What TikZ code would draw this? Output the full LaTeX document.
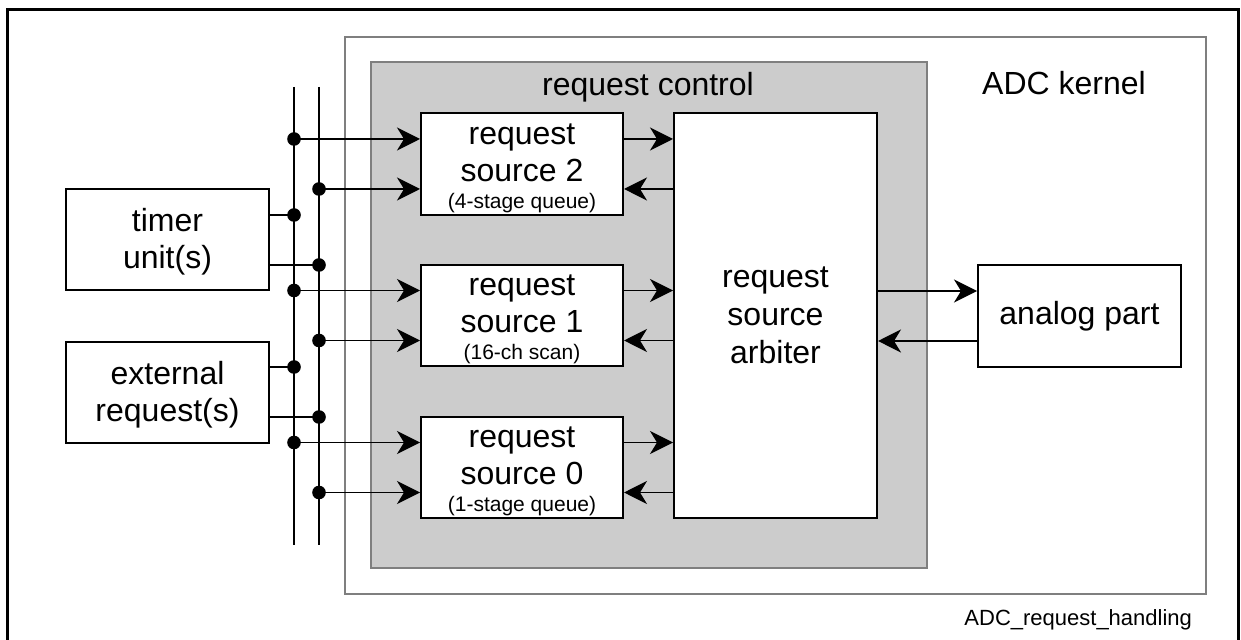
\documentclass[tikz,border=0pt]{standalone}
\usepackage{fontspec}
\setmainfont{Liberation Sans}
\usetikzlibrary{arrows.meta}
\definecolor{ctrlgray}{HTML}{CCCCCC}
\definecolor{edgegray}{HTML}{7F7F7F}
\tikzset{
  blk/.style={draw=black, line width=1pt, fill=white, align=center, inner sep=0pt,
    font=\fontsize{16}{19}\selectfont},
  rstext/.style={align=center, inner sep=0pt, yshift=-2pt, font=\fontsize{16}{18.5}\selectfont},
  conn/.style={line width=0.75pt},
  arr/.style={conn, -{Stealth[length=11.5pt, width=11.5pt, inset=3.5pt]}},
  busline/.style={line width=1.1pt},
  junc/.style={circle, fill=black, inner sep=0pt, minimum size=6.8pt},
  smalltxt/.style={font=\fontsize{10.5}{12}\selectfont}
}
\begin{document}
\begin{tikzpicture}[x=0.5pt,y=-0.5pt]
\useasboundingbox (0,0) rectangle (1241,640);
% outer frame
\draw[line width=1.5pt] (7,650) -- (7,10) -- (1238,10) -- (1238,650);
% ADC kernel
\draw[draw=edgegray, line width=0.7pt] (345,37) rectangle (1206,594);
\node[font=\fontsize{16}{19}\selectfont] (kern) at (1064,83) {ADC kernel};
% request control
\draw[draw=edgegray, line width=0.8pt, fill=ctrlgray] (371,62) rectangle (927,568);
\node[font=\fontsize{16}{19}\selectfont] (ctrl) at (648,87) {request control};
% blocks
\node[blk, minimum width=101.5pt, minimum height=50.5pt,
  label={[rstext, yshift=1pt]center:timer\\unit(s)}] (timer) at (167.5,239.5) {};
\node[blk, minimum width=101.5pt, minimum height=50.5pt,
  label={[rstext, yshift=1pt]center:external\\request(s)}] (ext) at (167.5,392.5) {};
\node[blk, minimum width=101pt, minimum height=51pt,
  label={[rstext]center:request\\source 2\\[-5pt]{\fontsize{10.5}{12}\selectfont (4-stage queue)}}] (rs2) at (522,164) {};
\node[blk, minimum width=101pt, minimum height=50.5pt,
  label={[rstext]center:request\\source 1\\[-5pt]{\fontsize{10.5}{12}\selectfont (16-ch scan)}}] (rs1) at (522,315.5) {};
\node[blk, minimum width=101pt, minimum height=50.5pt,
  label={[rstext]center:request\\source 0\\[-5pt]{\fontsize{10.5}{12}\selectfont (1-stage queue)}}] (rs0) at (522,467.5) {};
\node[blk, minimum width=101.5pt, minimum height=202.5pt] (arb) at (775.5,315.5) {request\\source\\arbiter};
\node[blk, minimum width=101.5pt, minimum height=51pt] (ana) at (1079.5,316) {analog part};
% bus lines
\coordinate (b1t) at (294,87); \coordinate (b1b) at (294,545);
\coordinate (b2t) at (319,87); \coordinate (b2b) at (319,545);
\draw[busline] (b1t) -- (b1b);
\draw[busline] (b2t) -- (b2b);
% connection points on the request sources
\foreach \r in {rs2,rs1,rs0}{
  \coordinate (\r a) at ([yshift=12.5pt]\r.west);
  \coordinate (\r b) at ([yshift=-12.5pt]\r.west);
}
% timer and external outputs to bus
\coordinate (ta) at ([yshift=12.25pt]timer.east);
\coordinate (tb) at ([yshift=-12.75pt]timer.east);
\coordinate (ea) at ([yshift=12.75pt]ext.east);
\coordinate (eb) at ([yshift=-12.25pt]ext.east);
\draw[conn] (ta) -- (ta -| b1t) node[junc] {};
\draw[conn] (tb) -- (tb -| b2t) node[junc] {};
\draw[conn] (ea) -- (ea -| b1t) node[junc] {};
\draw[conn] (eb) -- (eb -| b2t) node[junc] {};
% bus to request sources
\foreach \r in {rs2,rs1,rs0}{
  \draw[arr] (\r a -| b1t) node[junc] {} -- (\r a);
  \draw[arr] (\r b -| b2t) node[junc] {} -- (\r b);
  \draw[arr] (\r a -| \r.east) -- (\r a -| arb.west);
  \draw[arr] (\r b -| arb.west) -- (\r b -| \r.east);
}
% arbiter <-> analog part
\coordinate (aa) at ([yshift=12.5pt]ana.west);
\coordinate (ab) at ([yshift=-12.5pt]ana.west);
\draw[arr] (aa -| arb.east) -- (aa);
\draw[arr] (ab) -- (ab -| arb.east);
% caption
\node[anchor=east, font=\fontsize{11}{13}\selectfont] (cap) at (1199,620) {ADC\_request\_handling};
\end{tikzpicture}
\end{document}
